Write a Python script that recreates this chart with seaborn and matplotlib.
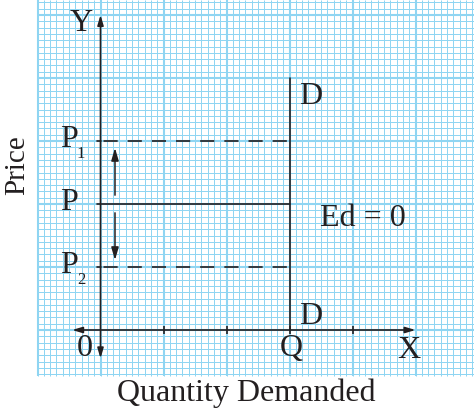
import matplotlib.pyplot as plt
import numpy as np
import pandas as pd
import seaborn as sns

# perfectly inelastic demand: quantity stays at Q whatever the price
quantity_q = 3
demand_top = 4
price_levels = [3, 2, 1]            # P1, P, P2
price_names = ['P', 'P', 'P']
price_subs = ['1', '', '2']
x_ticks = [1, 2, 3, 4]

ink = '#231f20'
grid_col = '#8fd5f2'

sns.set_style('white')
plt.rcParams['font.family'] = ['Liberation Serif', 'DejaVu Serif']

fig = plt.figure(figsize=(4.74, 4.17), dpi=100)
ax = fig.add_axes([0, 0, 1, 1])
x_min, x_max = -100.5 / 63, (474 - 100.5) / 63
y_min, y_max = (330 - 417) / 63, 330 / 63
ax.set_xlim(x_min, x_max)
ax.set_ylim(y_min, y_max)
ax.axis('off')

# graph paper background
g_left, g_bottom = -1.0, -0.73
minor_x = np.arange(-1.0, x_max, 0.1)
minor_y = np.arange(-0.7, y_max, 0.1)
ax.vlines(minor_x, g_bottom, y_max, color=grid_col, lw=0.72, zorder=0, snap=True)
ax.hlines(minor_y, g_left, x_max, color=grid_col, lw=0.72, zorder=0, snap=True)
ax.vlines(np.arange(-1, 6), g_bottom, y_max, color=grid_col, lw=1.5, zorder=0, snap=True)
ax.hlines(np.arange(0, 6), g_left, x_max, color=grid_col, lw=1.5, zorder=0, snap=True)

# axes with arrows
arrow_kw = dict(arrowstyle='<|-|>,head_length=0.6,head_width=0.18', color=ink, lw=1.2,
                shrinkA=0, shrinkB=0)
ax.annotate('', xy=(5.0, 0), xytext=(-0.45, 0), arrowprops=arrow_kw)
ax.annotate('', xy=(0, 5.0), xytext=(0, -0.45), arrowprops=arrow_kw)
ax.vlines(x_ticks, -0.06, 0.06, color=ink, lw=1.2)

# demand curve D-D
demand = pd.DataFrame({'q': [quantity_q, quantity_q], 'p': [0, demand_top]})
sns.lineplot(data=demand, x='q', y='p', color=ink, lw=1.2, ax=ax,
             sort=False, estimator=None)

# price lines
for lvl in price_levels:
    line = pd.DataFrame({'q': [0, quantity_q], 'p': [lvl, lvl]})
    if lvl == price_levels[1]:
        ax.plot([-0.05, quantity_q], [lvl, lvl], color=ink, lw=1.2)
    else:
        sns.lineplot(data=line, x='q', y='p', color=ink, lw=1.2, ax=ax,
                     estimator=None, dashes=False, linestyle=(-1.5, (8.5, 6)))
        ax.plot([-0.05, 0], [lvl, lvl], color=ink, lw=1.2)

# small arrows showing price change
small_arrow = dict(arrowstyle='-|>,head_length=0.75,head_width=0.22', color=ink, lw=1.1,
                   shrinkA=0, shrinkB=0)
ax.annotate('', xy=(0.23, 2.89), xytext=(0.23, 2.14), arrowprops=small_arrow)
ax.annotate('', xy=(0.23, 1.11), xytext=(0.23, 1.86), arrowprops=small_arrow)

# labels
fs = 23
for lvl, name, sub in zip(price_levels, price_names, price_subs):
    ax.text(-0.5, lvl + 0.02, name, fontsize=fs, color=ink, ha='center', va='center')
    if sub:
        ax.text(-0.31, lvl - 0.2, sub, fontsize=12, color=ink, ha='center', va='center')

ax.text(-0.31, 4.87, 'Y', fontsize=fs, color=ink, ha='center', va='center')
ax.text(-0.25, -0.30, '0', fontsize=fs, color=ink, ha='center', va='center')
ax.text(quantity_q + 0.02, -0.30, 'Q', fontsize=fs, color=ink, ha='center', va='center')
ax.text(4.9, -0.33, 'X', fontsize=fs, color=ink, ha='center', va='center')
ax.text(3.33, 3.71, 'D', fontsize=fs, color=ink, ha='center', va='center')
ax.text(3.33, 0.21, 'D', fontsize=fs, color=ink, ha='center', va='center')
ax.text(4.17, 1.77, 'Ed = 0', fontsize=fs, color=ink, ha='center', va='center')
ax.text(-1.33, 2.62, 'Price', fontsize=21, color=ink, ha='center', va='center', rotation=90)
ax.text(2.32, -1.0, 'Quantity Demanded', fontsize=fs, color=ink, ha='center', va='center')

fig.savefig('out.png', dpi=100)
plt.close()
